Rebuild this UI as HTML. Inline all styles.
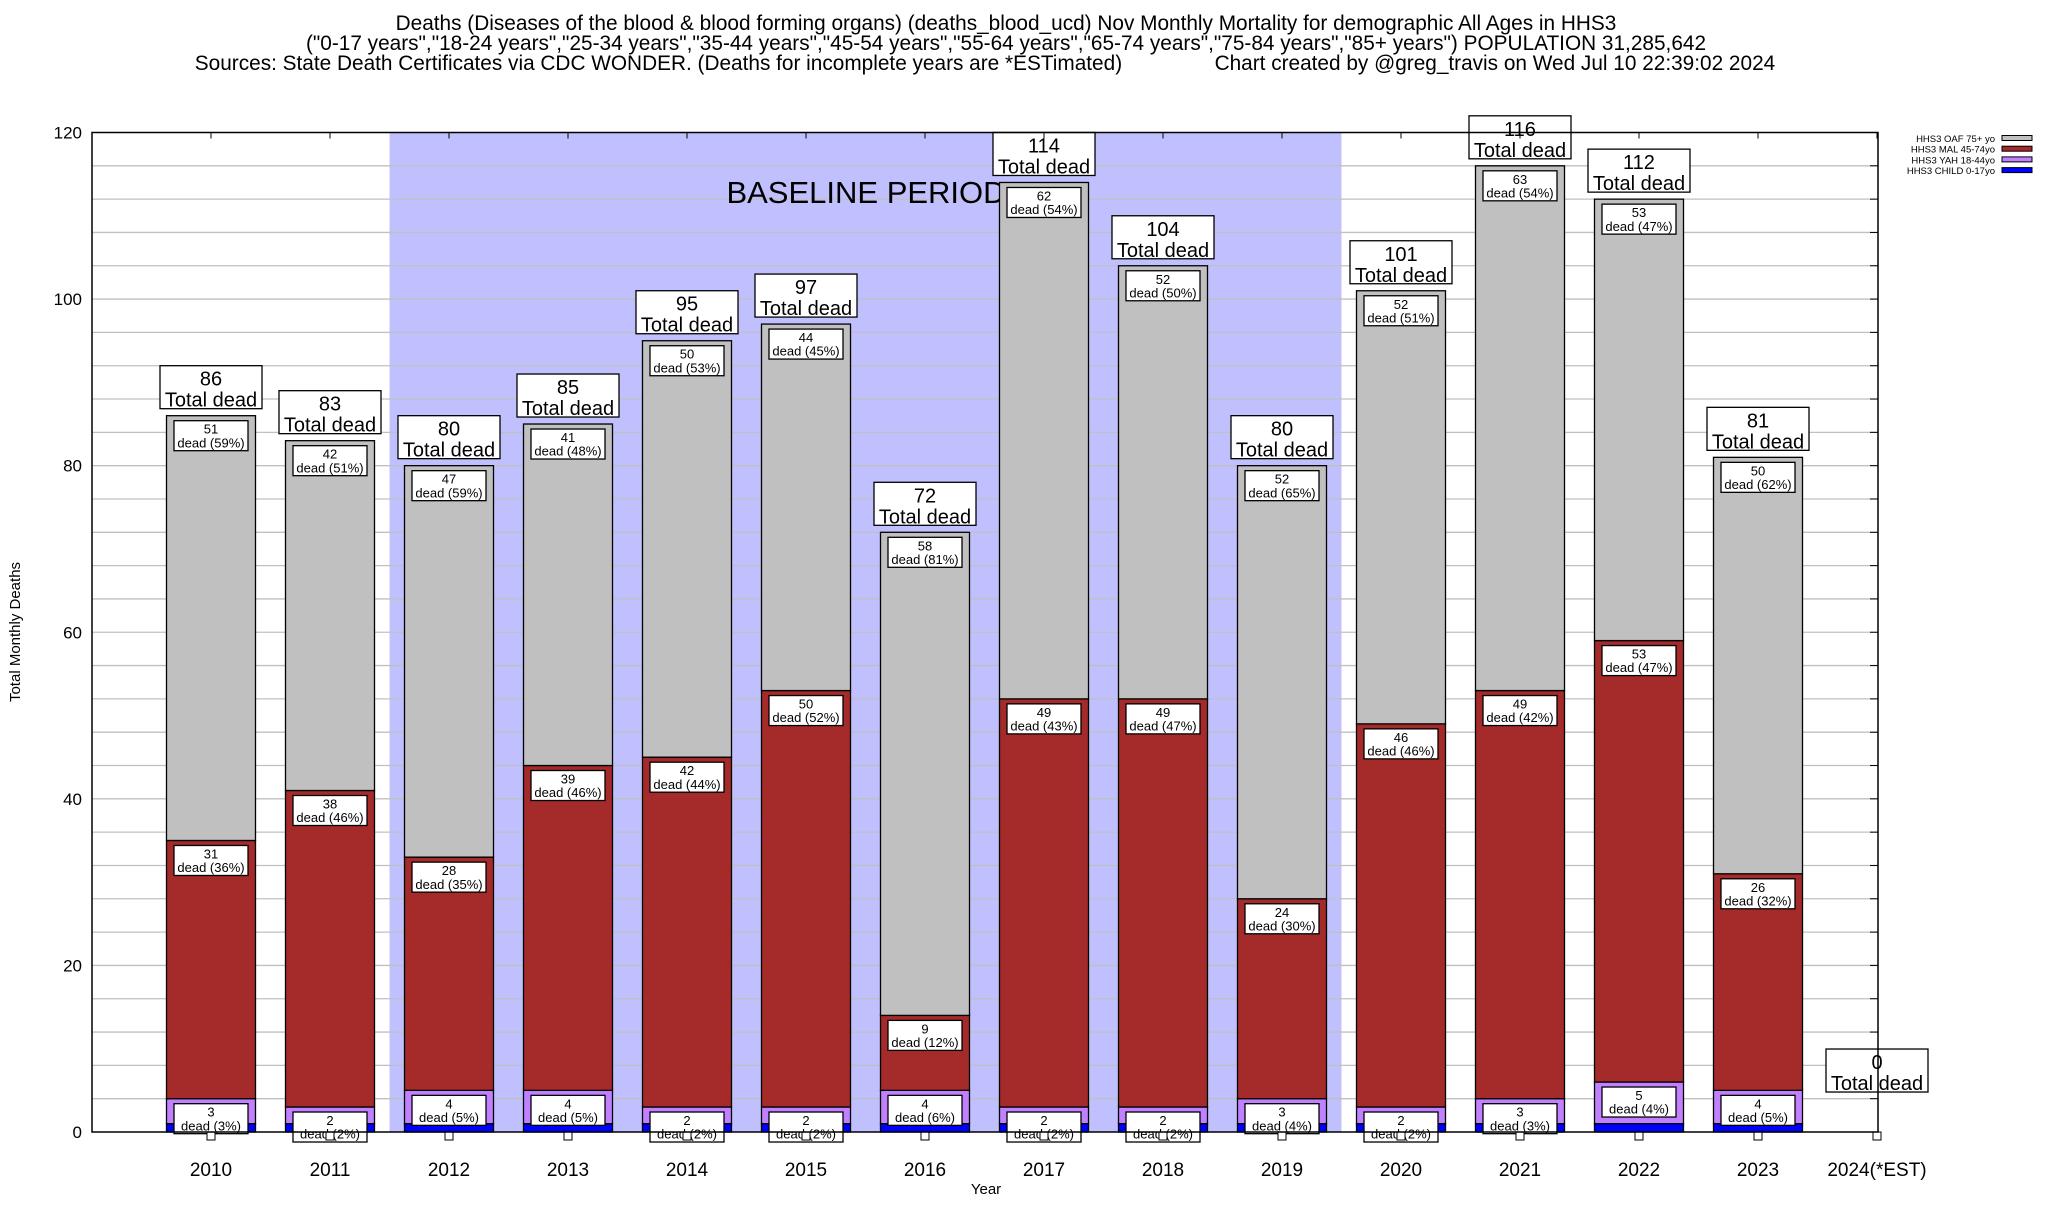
<!DOCTYPE html>
<html><head><meta charset="utf-8"><style>
body{margin:0;background:#fff;width:2048px;height:1200px;overflow:hidden}
svg text{font-family:"Liberation Sans",Arial,sans-serif;fill:#000}
</style></head><body>
<svg id="c" width="2048" height="1200" xmlns="http://www.w3.org/2000/svg">
<text x="1006" y="30" font-size="20.8" text-anchor="middle">Deaths (Diseases of the blood &amp; blood forming organs) (deaths_blood_ucd) Nov Monthly Mortality for demographic All Ages in HHS3</text>
<text x="1006" y="50" font-size="20.8" text-anchor="middle">("0-17 years","18-24 years","25-34 years","35-44 years","45-54 years","55-64 years","65-74 years","75-84 years","85+ years") POPULATION 31,285,642</text>
<text x="985" y="70" font-size="20.8" text-anchor="middle" xml:space="preserve">Sources: State Death Certificates via CDC WONDER. (Deaths for incomplete years are *ESTimated)                Chart created by @greg_travis on Wed Jul 10 22:39:02 2024</text>
<text x="20" y="632" font-size="15" text-anchor="middle" transform="rotate(-90 20 632)">Total Monthly Deaths</text>
<text x="986" y="1194" font-size="15" text-anchor="middle">Year</text>
<g id="legend"></g>
</svg>
<script>
const categories=["2010","2011","2012","2013","2014","2015","2016","2017","2018","2019","2020","2021","2022","2023","2024(*EST)"];
const child=[1,1,1,1,1,1,1,1,1,1,1,1,1,1,0];
const yah=[3,2,4,4,2,2,4,2,2,3,2,3,5,4,0];
const mal=[31,38,28,39,42,50,9,49,49,24,46,49,53,26,0];
const oaf=[51,42,47,41,50,44,58,62,52,52,52,63,53,50,0];
const yTicks=[0,20,40,60,80,100,120];
const baselineRange=[2,9];
const NS="http://www.w3.org/2000/svg";
const svg=document.getElementById('c');
const L=92,R=1878,T=132.5,B=1132,step=119;
const x=i=>L+step*(i+1);
const y=v=>B-(B-T)*v/120;
function mk(tag,attrs,parent){const e=document.createElementNS(NS,tag);for(const k in attrs)e.setAttribute(k,attrs[k]);(parent||svg).appendChild(e);return e;}
function roundEven(p){const f=Math.floor(p),d=p-f;if(Math.abs(d-0.5)<1e-9)return f%2===0?f:f+1;return Math.round(p);}
let bp=mk('rect',{x:x(baselineRange[0])-step/2,y:T,width:step*(baselineRange[1]-baselineRange[0]+1),height:B-T,fill:'#c0c0ff'});


for(let v=4;v<120;v+=4){let g=mk('line',{x1:L,x2:R,y1:y(v),y2:y(v),stroke:'#c0c0c0','stroke-width':1.3});


mk('line',{x1:R-8,x2:R,y1:y(v),y2:y(v),stroke:'#000'});}
let bt=mk('text',{x:866,y:203,'font-size':31,'text-anchor':'middle'});bt.textContent='BASELINE PERIOD';


yTicks.forEach(v=>{let t=mk('text',{x:82,y:y(v)+6,'font-size':17,'text-anchor':'end'});t.textContent=v;

});
const colors=['#0000ff','#c080ff','#a52a2a','#c0c0c0'];
const names=['child','yah','mal','oaf'];
const series=[child,yah,mal,oaf];
function box(cx,top,w,h,lines,fs,name){
 let g=mk('g',{});
 
 
 mk('rect',{x:cx-w/2,y:top,width:w,height:h,fill:'#fff',stroke:'#000','stroke-width':1.3},g);
 lines.forEach((s,k)=>{let t=mk('text',{x:cx,y:top+fs+k*fs*1.05,'font-size':fs,'text-anchor':'middle'},g);t.textContent=s;});
}
categories.forEach((c,i)=>{
 const cx=x(i),w=89;let base=0;
 const total=child[i]+yah[i]+mal[i]+oaf[i];
 series.forEach((s,k)=>{
  const v=s[i];if(v<=0){return;}
  let r=mk('rect',{x:cx-w/2,y:y(base+v),width:w,height:y(base)-y(base+v),fill:colors[k],stroke:'#000','stroke-width':1.3});
  
  
  base+=v;
 });
 let cum=child[i];
 [yah,mal,oaf].forEach((s,k)=>{
  const v=s[i];cum+=v;if(v<=0)return;
  const pct=roundEven(100*v/total);
  box(cx,y(cum)+5,74,30,[String(v),'dead ('+pct+'%)'],13,'segment-label-'+c);
 });
 let sq=mk('rect',{x:cx-4,y:B,width:8,height:8,fill:'#fff',stroke:'#000'});
 
 
 const bottom=Math.min(y(total)-7,y(4.8));
 box(cx,bottom-43,102,43,[String(total),'Total dead'],20,'total-label-'+c);
 let t=mk('text',{x:cx,y:1176,'font-size':19,'text-anchor':'middle'});t.textContent=c;
 
 
 mk('line',{x1:cx,x2:cx,y1:T,y2:T+6,stroke:'#000'});
});
let frame=mk('rect',{x:L,y:T,width:R-L,height:B-T,fill:'none',stroke:'#000','stroke-width':1.5});


const lg=document.getElementById('legend');
const lnames=['HHS3 OAF 75+ yo','HHS3 MAL 45-74yo','HHS3 YAH 18-44yo','HHS3 CHILD 0-17yo'];
const lcol=['#c0c0c0','#a52a2a','#c080ff','#0000ff'];
lnames.forEach((n,k)=>{const yy=138+k*10.7;
 let t=mk('text',{x:1995,y:yy+4,'font-size':9.5,'text-anchor':'end'},lg);t.textContent=n;
 
 
 mk('rect',{x:2002,y:yy-2.5,width:30,height:5,fill:lcol[k],stroke:'#000'},lg);});
</script>
</body></html>
